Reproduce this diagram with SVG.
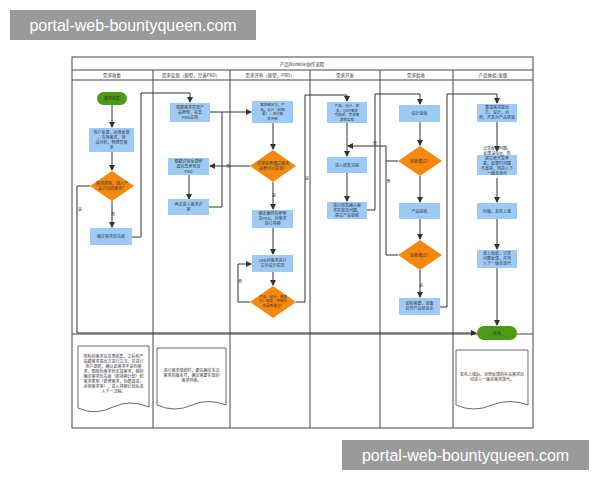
<svg xmlns="http://www.w3.org/2000/svg" width="600" height="480" viewBox="0 0 600 480">
<defs>
<marker id="ar" markerWidth="6" markerHeight="6" refX="5" refY="3" orient="auto" markerUnits="userSpaceOnUse"><path d="M0,0 L6,3 L0,6 z" fill="#333"/></marker>
<style>
text{font-family:"Noto Sans CJK SC","Liberation Sans",sans-serif;fill:#333}
.t{font-size:4px;text-anchor:middle}
.s{font-size:3.5px;text-anchor:middle}
.h{font-size:4.5px;text-anchor:middle}
.box{fill:#9ecbf5}
.dia{fill:#f5880f}
.term{fill:#4c9a16}
.ln{fill:none;stroke:#444;stroke-width:1}
.c{fill:none;stroke:#333;stroke-width:1}
.doc{fill:#fff;stroke:#444;stroke-width:0.8}
.wm{font-size:16px;text-anchor:middle;fill:#fff;font-family:"Liberation Sans",sans-serif}
</style>
</defs>
<rect width="600" height="480" fill="#fff"/>
<g id="frame">
<rect x="72" y="57" width="461" height="371" class="ln"/>
<line x1="72" y1="70" x2="533" y2="70" class="ln"/>
<line x1="72" y1="80" x2="533" y2="80" class="ln"/>
<line x1="72" y1="334" x2="533" y2="334" class="ln"/>
<line x1="153" y1="70" x2="153" y2="428" class="ln"/>
<line x1="230" y1="70" x2="230" y2="428" class="ln"/>
<line x1="310" y1="70" x2="310" y2="428" class="ln"/>
<line x1="380" y1="70" x2="380" y2="428" class="ln"/>
<line x1="453" y1="70" x2="453" y2="428" class="ln"/>
<text x="302" y="65.5" class="h">产品Worktile协作流程</text>
<text x="112" y="77" class="h">需求收集</text>
<text x="191" y="77" class="h">需求实现（原型，完善PRD）</text>
<text x="270" y="77" class="h">需求评审（原型，PRD）</text>
<text x="345" y="77" class="h">需求开发</text>
<text x="416" y="77" class="h">需求验收</text>
<text x="493" y="77" class="h">产品体验/发版</text>
</g>
<g id="connectors">
<path d="M112,105 V127" class="c" marker-end="url(#ar)"/>
<path d="M112,152 V170" class="c" marker-end="url(#ar)"/>
<path d="M112,201 V227" class="c" marker-end="url(#ar)"/>
<text x="113" y="216" class="t">否</text>
<path d="M90,186 H77 V333 H476" class="c" marker-end="url(#ar)"/>
<text x="80" y="211" class="t">是</text>
<path d="M132,237 H141 V93 H190 V102" class="c" marker-end="url(#ar)"/>
<path d="M210,112 H251" class="c" marker-end="url(#ar)"/>
<path d="M273,123 V149" class="c" marker-end="url(#ar)"/>
<path d="M250,166 H210" class="c" marker-end="url(#ar)"/>
<text x="228" y="167.5" class="t">否</text>
<path d="M189,175 V199" class="c" marker-end="url(#ar)"/>
<path d="M209,207 H222 V112" class="c"/>
<path d="M273,182 V209" class="c" marker-end="url(#ar)"/>
<text x="274" y="197" class="t">是</text>
<path d="M273,228 V254" class="c" marker-end="url(#ar)"/>
<path d="M273,272 V285" class="c" marker-end="url(#ar)"/>
<path d="M250,302 H238 V264 H251" class="c" marker-end="url(#ar)"/>
<text x="240" y="283" class="t">否</text>
<path d="M296,302 H305 V95 H347 V101" class="c" marker-end="url(#ar)"/>
<text x="307" y="180" class="t">是</text>
<path d="M347,123 V156" class="c" marker-end="url(#ar)"/>
<path d="M347,173 V201" class="c" marker-end="url(#ar)"/>
<path d="M367,210 H375 V94 H420 V104" class="c" marker-end="url(#ar)"/>
<path d="M420,122 V145" class="c" marker-end="url(#ar)"/>
<path d="M398,161 H386 V146 H348" class="c" marker-end="url(#ar)"/>
<path d="M398,255 H386 V161" class="c"/>
<text x="375" y="144.5" class="t">否</text>
<text x="388.5" y="183" class="t">否</text>
<path d="M420,176 V202" class="c" marker-end="url(#ar)"/>
<path d="M420,219 V239" class="c" marker-end="url(#ar)"/>
<path d="M420,270 V297" class="c" marker-end="url(#ar)"/>
<text x="421" y="287" class="t">是</text>
<path d="M440,307 H447 V94 H497 V103" class="c" marker-end="url(#ar)"/>
<path d="M497,122 V151" class="c" marker-end="url(#ar)"/>
<path d="M497,178 V202" class="c" marker-end="url(#ar)"/>
<path d="M497,219 V249" class="c" marker-end="url(#ar)"/>
<path d="M497,268 V325" class="c" marker-end="url(#ar)"/>
</g>
<g id="n-start"><rect x="97" y="92" width="30" height="13" rx="6.5" class="term"/><text x="112" y="100" class="t">需求收集</text></g>
<g id="n-collect"><rect x="89" y="128" width="45" height="24" class="box"/><text class="t"><tspan x="111.5" y="134">用户反馈，运营反馈</tspan><tspan x="111.5" y="139">，市场需求，竞</tspan><tspan x="111.5" y="144">品分析，管理层需</tspan><tspan x="111.5" y="149">求</tspan></text></g>
<g id="n-d1"><polygon points="112,171 134,186 112,201 90,186" class="dia"/><text class="t"><tspan x="112" y="185">需求提炼，进入产</tspan><tspan x="112" y="190">品方向的需求？</tspan></text></g>
<g id="n-priority"><rect x="90" y="228" width="42" height="17" class="box"/><text x="111" y="238" class="t">确定需求优先级</text></g>
<g id="n-proto"><rect x="170" y="103" width="40" height="19" class="box"/><text class="t"><tspan x="190" y="109">根据需求实现产</tspan><tspan x="190" y="114">品原型，完善</tspan><tspan x="190" y="119">PRD文档</tspan></text></g>
<g id="n-fix"><rect x="168" y="158" width="41" height="17" class="box"/><text class="t"><tspan x="188.5" y="163">根据评审反馈修</tspan><tspan x="188.5" y="168">改完善原型及</tspan><tspan x="188.5" y="173">PRD</tspan></text></g>
<g id="n-again"><rect x="168" y="199" width="41" height="16" class="box"/><text class="t"><tspan x="188.5" y="206">再次进入需求评</tspan><tspan x="188.5" y="211">审</tspan></text></g>
<g id="n-review"><rect x="252" y="101" width="41" height="22" class="box"/><text class="s"><tspan x="272.5" y="106">需求确定方，产</tspan><tspan x="272.5" y="110.5">品，设计（如需</tspan><tspan x="272.5" y="115">要），进行需</tspan><tspan x="272.5" y="119.5">求评审</tspan></text></g>
<g id="n-d2"><polygon points="273,150 296,166 273,182 250,166" class="dia"/><text class="t"><tspan x="273" y="165">评审是否通过需求</tspan><tspan x="273" y="170">是否可以实现？</tspan></text></g>
<g id="n-final"><rect x="252" y="210" width="41" height="18" class="box"/><text class="t"><tspan x="272.5" y="215">输出最终的原型</tspan><tspan x="272.5" y="220">及PRD，对需求</tspan><tspan x="272.5" y="225">进行排期</tspan></text></g>
<g id="n-ued"><rect x="252" y="255" width="41" height="17" class="box"/><text class="t"><tspan x="272.5" y="262">UED对需求进行</tspan><tspan x="272.5" y="267">交互设计实现</tspan></text></g>
<g id="n-d3"><polygon points="273,286 296,302 273,318 250,302" class="dia"/><text class="s"><tspan x="273" y="297.5">产品、设计、需求</tspan><tspan x="273" y="302">方、研发、评审交</tspan><tspan x="273" y="306.5">互是否通过？</tspan></text></g>
<g id="n-dev1"><rect x="327" y="102" width="40" height="21" class="box"/><text class="s"><tspan x="347" y="107">产品、设计、研</tspan><tspan x="347" y="111.5">发、QA对需求</tspan><tspan x="347" y="116">完成会，完善需</tspan><tspan x="347" y="120.5">求的实现</tspan></text></g>
<g id="n-dev2"><rect x="327" y="157" width="40" height="16" class="box"/><text x="347" y="166.5" class="t">进入研发流程</text></g>
<g id="n-dev3"><rect x="327" y="202" width="40" height="17" class="box"/><text class="t"><tspan x="347" y="207">进行研发确认需</tspan><tspan x="347" y="212">求实现及问题，</tspan><tspan x="347" y="217">提交产品验收</tspan></text></g>
<g id="n-design"><rect x="399" y="105" width="41" height="17" class="box"/><text x="419.5" y="115" class="t">设计验收</text></g>
<g id="n-d4"><polygon points="420,146 442,161 420,176 398,161" class="dia"/><text x="420" y="162.5" class="t">验收通过？</text></g>
<g id="n-prod"><rect x="399" y="203" width="41" height="16" class="box"/><text x="419.5" y="212.5" class="t">产品验收</text></g>
<g id="n-d5"><polygon points="420,240 442,255 420,270 398,255" class="dia"/><text x="420" y="256.5" class="t">验收通过？</text></g>
<g id="n-meet"><rect x="399" y="298" width="41" height="17" class="box"/><text class="t"><tspan x="419.5" y="305">如有需要，准备</tspan><tspan x="419.5" y="310">召开产品体验会</tspan></text></g>
<g id="n-exp"><rect x="477" y="104" width="40" height="18" class="box"/><text class="t"><tspan x="497" y="109">邀请需求提出</tspan><tspan x="497" y="114">方，设计，运</tspan><tspan x="497" y="119">营，开发对产品体验</tspan></text></g>
<g id="n-bug"><rect x="477" y="155" width="40" height="20" class="box"/><text class="t"><tspan x="497" y="150">记录反馈问题，</tspan><tspan x="497" y="155">如果是bug，则</tspan><tspan x="497" y="160">提交给开发修</tspan><tspan x="497" y="165">复，如果时问题</tspan><tspan x="497" y="170">不改等，则进入下</tspan><tspan x="497" y="175">一版本迭代</tspan></text></g>
<g id="n-release"><rect x="477" y="203" width="40" height="16" class="box"/><text x="497" y="212.5" class="t">封版，发布上线</text></g>
<g id="n-online"><rect x="477" y="250" width="40" height="18" class="box"/><text class="t"><tspan x="497" y="255">线上验收，记录</tspan><tspan x="497" y="260">问题反馈，并列</tspan><tspan x="497" y="265">入下一版本迭代</tspan></text></g>
<g id="n-end"><rect x="477" y="326" width="40" height="14" rx="7" class="term"/><text x="497" y="334.5" class="t">结束</text></g>
<g id="note1"><path d="M78,346 H149 V407 Q130,399 113,407 Q95,416 78,408 Z" class="doc"/><text class="t"><tspan x="113.5" y="358">所有的需求在这里收集，之后和产</tspan><tspan x="113.5" y="363">品跟需求提出方进行交流，并进行</tspan><tspan x="113.5" y="368">用户调研，确认此需求不是伪需</tspan><tspan x="113.5" y="373">求。剔除伪需求和无效需求，剩的</tspan><tspan x="113.5" y="378">确定需求优先级（即排期计划）和</tspan><tspan x="113.5" y="383">需求类型（新增需求，功能改进，</tspan><tspan x="113.5" y="388">运营需求等），进入排期计划后进</tspan><tspan x="113.5" y="393">入下一流程。</tspan></text></g>
<g id="note2"><path d="M157,348 H226 V405 Q208,398 192,405 Q175,413 157,405 Z" class="doc"/><text class="t"><tspan x="191.5" y="372">进行需求规划时，要先确定本次</tspan><tspan x="191.5" y="377">需求的版本号，确定需要实现的</tspan><tspan x="191.5" y="382">需求列表。</tspan></text></g>
<g id="note3"><path d="M456,350 H528 V405 Q510,398 492,405 Q474,413 456,405 Z" class="doc"/><text class="t"><tspan x="492" y="376">发布上线后，运营反馈的补充需求自</tspan><tspan x="492" y="381">动进入一版本需求迭代。</tspan></text></g>
<g id="wm"><rect x="10" y="10" width="246" height="30" fill="#9a9a9a"/><text x="133" y="30.5" class="wm">portal-web-bountyqueen.com</text>
<rect x="342" y="440" width="247" height="30" fill="#9a9a9a"/><text x="465.5" y="460.5" class="wm">portal-web-bountyqueen.com</text></g>
</svg>
